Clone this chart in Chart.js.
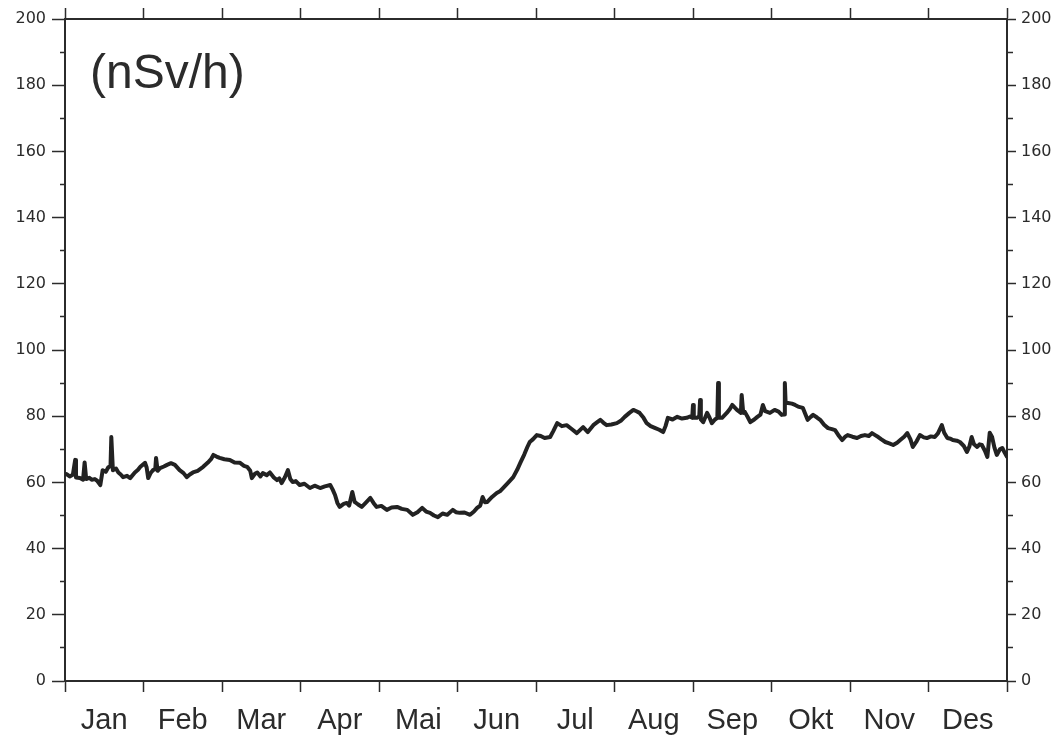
<!DOCTYPE html>
<html>
<head>
<meta charset="utf-8">
<title>Dose rate</title>
<script src="https://cdn.jsdelivr.net/npm/chart.js@4.4.1/dist/chart.umd.min.js"></script>
<style>
    html, body { margin: 0; padding: 0; background: #fff; }
    #wrap { width: 1062px; height: 744px; }
</style>
</head>
<body>
<div id="wrap"><canvas id="doseChart" width="1062" height="744"></canvas></div>
<script>
// month names along the bottom axis
const months = ['Jan', 'Feb', 'Mar', 'Apr', 'Mai', 'Jun', 'Jul', 'Aug', 'Sep', 'Okt', 'Nov', 'Des'];

// position in the year, in months (0 = 1 Jan, 12 = end of Des)
const monthPos = [
    0.02, 0.06, 0.10, 0.13, 0.14, 0.19, 0.23, 0.25, 0.27, 0.31, 0.34, 0.38, 0.41, 0.45, 0.48, 0.52,
    0.55, 0.58, 0.59, 0.61, 0.65, 0.68, 0.71, 0.74, 0.79, 0.83, 0.89, 0.93, 0.96, 1.02, 1.04, 1.06,
    1.09, 1.12, 1.15, 1.16, 1.18, 1.21, 1.26, 1.30, 1.35, 1.40, 1.46, 1.51, 1.55, 1.59, 1.63, 1.69,
    1.76, 1.82, 1.86, 1.89, 1.93, 1.97, 2.03, 2.10, 2.16, 2.23, 2.28, 2.32, 2.36, 2.38, 2.42, 2.45,
    2.49, 2.52, 2.57, 2.61, 2.66, 2.70, 2.73, 2.76, 2.80, 2.84, 2.87, 2.90, 2.94, 2.99, 3.05, 3.12,
    3.18, 3.25, 3.31, 3.38, 3.41, 3.44, 3.47, 3.50, 3.55, 3.59, 3.62, 3.66, 3.69, 3.73, 3.78, 3.83,
    3.89, 3.93, 3.97, 4.03, 4.10, 4.16, 4.23, 4.29, 4.36, 4.43, 4.49, 4.55, 4.60, 4.65, 4.70, 4.75,
    4.81, 4.87, 4.94, 4.98, 5.03, 5.09, 5.16, 5.21, 5.25, 5.29, 5.32, 5.35, 5.38, 5.44, 5.50, 5.54,
    5.58, 5.64, 5.71, 5.76, 5.80, 5.85, 5.89, 5.92, 5.96, 6.01, 6.06, 6.11, 6.18, 6.22, 6.27, 6.33,
    6.39, 6.45, 6.52, 6.56, 6.60, 6.66, 6.73, 6.78, 6.82, 6.86, 6.90, 6.96, 7.03, 7.08, 7.13, 7.19,
    7.24, 7.28, 7.32, 7.37, 7.41, 7.46, 7.52, 7.57, 7.62, 7.65, 7.68, 7.74, 7.80, 7.86, 7.92, 7.96,
    7.99, 8.00, 8.01, 8.05, 8.08, 8.09, 8.10, 8.13, 8.18, 8.21, 8.24, 8.28, 8.31, 8.32, 8.33, 8.37,
    8.43, 8.47, 8.50, 8.56, 8.61, 8.62, 8.64, 8.66, 8.70, 8.73, 8.78, 8.82, 8.86, 8.89, 8.92, 8.98,
    9.04, 9.09, 9.13, 9.16, 9.17, 9.18, 9.21, 9.26, 9.30, 9.35, 9.40, 9.46, 9.50, 9.53, 9.58, 9.62,
    9.67, 9.72, 9.77, 9.81, 9.86, 9.90, 9.94, 9.97, 10.03, 10.09, 10.14, 10.19, 10.24, 10.28, 10.32, 10.36,
    10.40, 10.45, 10.50, 10.55, 10.60, 10.64, 10.69, 10.73, 10.77, 10.80, 10.85, 10.89, 10.94, 10.98, 11.03, 11.08,
    11.12, 11.17, 11.20, 11.24, 11.28, 11.31, 11.36, 11.40, 11.45, 11.49, 11.52, 11.55, 11.58, 11.62, 11.65, 11.68,
    11.72, 11.75, 11.78, 11.81, 11.84, 11.87, 11.91, 11.94, 11.97, 12.00
];

// dose rate in nSv/h
const doseRate = [
    62.5, 61.8, 62.3, 66.8, 61.5, 61.3, 60.8, 66.0, 61.0, 61.4, 60.8, 61.0, 60.5, 59.2, 63.7, 63.2,
    64.5, 65.0, 73.7, 63.7, 64.2, 63.0, 62.4, 61.6, 62.0, 61.3, 63.0, 63.8, 64.7, 65.9, 64.5, 61.3,
    62.8, 63.7, 64.0, 67.4, 63.5, 64.3, 64.8, 65.3, 65.8, 65.3, 63.7, 62.8, 61.6, 62.4, 63.0, 63.5,
    64.7, 66.0, 67.0, 68.3, 67.8, 67.4, 67.0, 66.8, 66.0, 65.9, 65.0, 64.7, 63.5, 61.3, 62.6, 63.0,
    61.8, 62.8, 62.2, 63.0, 61.5, 60.7, 61.2, 59.8, 61.5, 63.7, 61.0, 60.1, 60.4, 59.2, 59.6, 58.3,
    59.0, 58.3, 58.8, 59.2, 57.8, 56.2, 53.8, 52.6, 53.5, 53.8, 53.0, 57.1, 54.1, 53.4, 52.6, 53.8,
    55.3, 53.8, 52.6, 52.9, 51.7, 52.4, 52.6, 52.0, 51.7, 50.2, 51.0, 52.3, 51.2, 50.8, 50.0, 49.5,
    50.6, 50.2, 51.7, 51.0, 50.8, 50.9, 50.2, 51.2, 52.3, 53.0, 55.6, 54.0, 54.1, 55.6, 56.8, 57.3,
    58.3, 59.8, 61.6, 63.8, 65.9, 68.4, 70.7, 72.2, 73.0, 74.3, 74.0, 73.4, 73.7, 75.5, 77.9, 77.0,
    77.3, 76.2, 74.9, 75.8, 76.7, 75.2, 77.3, 78.2, 78.9, 78.0, 77.3, 77.5, 77.9, 78.6, 79.8, 81.0,
    81.9, 81.5, 81.0, 79.5, 77.9, 77.0, 76.4, 75.9, 75.2, 77.0, 79.5, 79.0, 79.8, 79.3, 79.5, 79.9,
    79.5, 83.4, 79.5, 79.5, 80.0, 84.9, 79.0, 78.2, 81.0, 79.6, 77.9, 79.0, 79.5, 90.0, 79.5, 79.5,
    81.0, 82.2, 83.4, 81.9, 81.0, 86.4, 81.0, 81.3, 79.6, 78.2, 79.0, 79.8, 80.5, 83.4, 81.5, 81.0,
    81.9, 81.4, 80.4, 80.5, 90.0, 84.0, 84.0, 83.8, 83.4, 82.8, 82.5, 78.9, 79.8, 80.4, 79.6, 78.9,
    77.4, 76.4, 76.1, 75.8, 74.0, 72.8, 73.8, 74.3, 73.8, 73.4, 74.0, 74.3, 74.0, 74.9, 74.3, 73.7,
    73.0, 72.2, 71.8, 71.3, 72.0, 72.8, 73.8, 74.9, 73.0, 70.7, 72.5, 74.3, 73.6, 73.4, 73.9, 73.7,
    74.8, 77.3, 75.0, 73.4, 73.2, 72.8, 72.6, 72.2, 71.0, 69.2, 70.8, 73.7, 71.5, 70.7, 71.5, 71.3,
    69.5, 67.7, 75.0, 73.7, 70.5, 68.3, 70.0, 70.4, 69.0, 67.7
];

const ink = '#2b2b2b';
const numFont = { family: 'DejaVu Sans', size: 16 };

function yTicksEvery10(scale) {
    scale.ticks = [];
    for (let v = 0; v <= 200; v += 10) scale.ticks.push({ value: v });
}

function yLabel(v) {
    return v % 20 === 0 ? String(v) : '';
}

// big unit label in the upper left of the plot
const unitLabel = {
    id: 'unitLabel',
    afterDraw(chart) {
        const { ctx, chartArea } = chart;
        ctx.save();
        ctx.font = '48px "Liberation Sans", Arial, sans-serif';
        ctx.fillStyle = ink;
        ctx.textBaseline = 'alphabetic';
        ctx.fillText('(nSv/h)', chartArea.left + 25, chartArea.top + 69);
        ctx.restore();
    }
};

const ctx = document.getElementById('doseChart').getContext('2d');
const doseChart = new Chart(ctx, {
    type: 'line',
    data: {
        datasets: [{
            data: monthPos.map((m, i) => ({ x: m, y: doseRate[i] })),
            borderColor: '#222',
            borderWidth: 4,
            pointRadius: 0,
            tension: 0,
            borderJoinStyle: 'round',
            borderCapStyle: 'round'
        }]
    },
    options: {
        responsive: false,
        animation: false,
        layout: { padding: 0 },
        plugins: {
            legend: { display: false },
            tooltip: { enabled: false }
        },
        scales: {
            x: {
                type: 'linear',
                position: 'bottom',
                min: 0,
                max: 12,
                afterBuildTicks: function(scale) {
                    scale.ticks = [];
                    for (let v = 0; v <= 24; v++) scale.ticks.push({ value: v / 2 });
                },
                afterFit: function(scale) { scale.height = 63; },
                border: { color: ink, width: 2 },
                grid: {
                    drawOnChartArea: false,
                    tickLength: 11,
                    tickWidth: 1.5,
                    tickColor: c => (c.tick && c.tick.value % 1 === 0) ? ink : 'rgba(0,0,0,0)'
                },
                ticks: {
                    autoSkip: false,
                    maxRotation: 0,
                    padding: 12,
                    color: ink,
                    font: { family: 'Liberation Sans', size: 29 },
                    callback: v => (v % 1 !== 0) ? months[Math.floor(v)] : ''
                }
            },
            xTop: {
                type: 'linear',
                position: 'top',
                min: 0,
                max: 12,
                afterBuildTicks: function(scale) {
                    scale.ticks = [];
                    for (let v = 0; v <= 12; v++) scale.ticks.push({ value: v });
                },
                afterFit: function(scale) { scale.height = 19; },
                border: { color: ink, width: 2 },
                grid: { drawOnChartArea: false, tickLength: 11, tickWidth: 1.5, tickColor: ink },
                ticks: { display: false }
            },
            y: {
                position: 'left',
                min: 0,
                max: 200,
                afterBuildTicks: yTicksEvery10,
                afterFit: function(scale) { scale.width = 65; },
                border: { color: ink, width: 2 },
                grid: {
                    drawOnChartArea: false,
                    tickLength: 13,
                    tickWidth: 1.5,
                    tickColor: ink,
                    // short minor ticks hugging the axis
                    tickBorderDash: c => (c.tick && c.tick.value % 20 !== 0) ? [0, 8, 5, 100] : []
                },
                ticks: { padding: 6, color: ink, font: numFont, callback: yLabel }
            },
            yRight: {
                position: 'right',
                min: 0,
                max: 200,
                afterBuildTicks: yTicksEvery10,
                afterFit: function(scale) { scale.width = 55; },
                border: { color: ink, width: 2 },
                grid: {
                    drawOnChartArea: false,
                    tickLength: 9,
                    tickWidth: 1.5,
                    tickColor: ink,
                    tickBorderDash: c => (c.tick && c.tick.value % 20 !== 0) ? [5, 100] : []
                },
                ticks: { padding: 5, color: ink, font: numFont, callback: yLabel }
            }
        }
    },
    plugins: [unitLabel]
});
</script>
</body>
</html>
